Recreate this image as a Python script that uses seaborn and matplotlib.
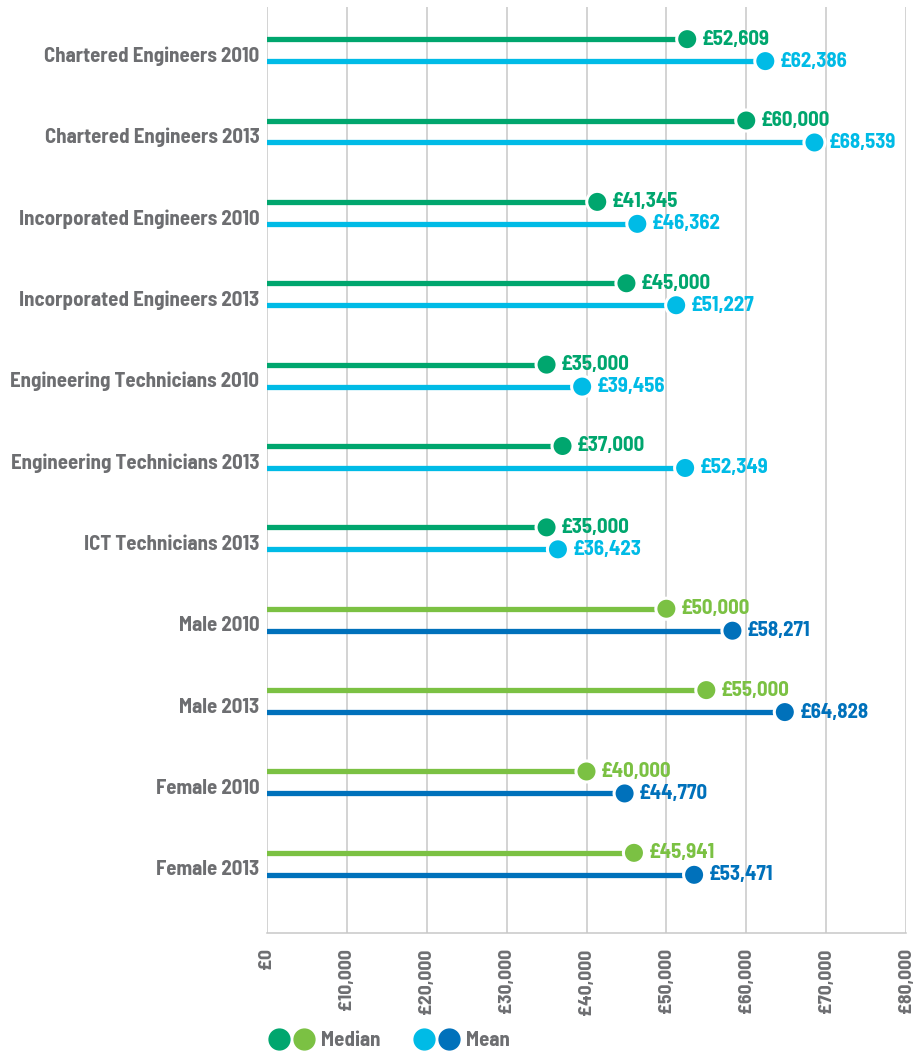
import numpy as np
import pandas as pd
import matplotlib
matplotlib.use("Agg")
import matplotlib.pyplot as plt
import matplotlib.transforms as mtransforms
from matplotlib.lines import Line2D
from matplotlib.legend_handler import HandlerTuple
import seaborn as sns

# ---- data ----
categories = [
    "Chartered Engineers 2010", "Chartered Engineers 2013",
    "Incorporated Engineers 2010", "Incorporated Engineers 2013",
    "Engineering Technicians 2010", "Engineering Technicians 2013",
    "ICT Technicians 2013", "Male 2010", "Male 2013",
    "Female 2010", "Female 2013",
]
median_vals = [52609, 60000, 41345, 45000, 35000, 37000, 35000, 50000, 55000, 40000, 45941]
mean_vals = [62386, 68539, 46362, 51227, 39456, 52349, 36423, 58271, 64828, 44770, 53471]
group = ["reg"] * 7 + ["gender"] * 4
x_ticks = [0, 10000, 20000, 30000, 40000, 50000, 60000, 70000, 80000]

DK_GREEN = "#00A66E"
LT_GREEN = "#7BC143"
LT_BLUE = "#00BBE6"
DK_BLUE = "#0071BB"
GRAY = "#6D6E71"
GRID = "#C8C8C8"
palette = {"reg-Median": DK_GREEN, "reg-Mean": LT_BLUE,
           "gender-Median": LT_GREEN, "gender-Mean": DK_BLUE}

rows = []
for i, cat in enumerate(categories):
    rows.append({"cat": cat, "pos": i - 0.135, "stat": "Median", "value": median_vals[i],
                 "key": f"{group[i]}-Median"})
    rows.append({"cat": cat, "pos": i + 0.135, "stat": "Mean", "value": mean_vals[i],
                 "key": f"{group[i]}-Mean"})
df = pd.DataFrame(rows)

sns.set_theme(style="white")
FONT = ["Barlow Semi Condensed", "DejaVu Sans"]
plt.rcParams["font.family"] = FONT
plt.rcParams["font.weight"] = "bold"
FS = 15

fig = plt.figure(figsize=(9.16, 10.52), dpi=100)
ax = fig.add_axes([267 / 916, 1 - 933 / 1052, (906 - 267) / 916, (933 - 7) / 1052])

# grid
for t in x_ticks:
    ax.axvline(t, color=GRID, lw=1.1, zorder=0)

# stems
for _, r in df.iterrows():
    ax.hlines(r["pos"], 0, r["value"], color=palette[r["key"]], lw=3.8,
              capstyle="round", zorder=2)

sns.scatterplot(data=df, x="value", y="pos", hue="key", palette=palette, s=230,
                edgecolor="white", linewidth=2.2, legend=False, zorder=3, ax=ax)

for _, r in df.iterrows():
    ax.annotate(f"£{r['value']:,}", (r["value"], r["pos"]), xytext=(10.5, 0),
                textcoords="offset points", va="center", ha="left",
                color=palette[r["key"]], fontsize=FS, fontweight="bold")

ax.set_xlim(0, 80000)
ax.set_ylim(10.85, -0.53)
ax.set_yticks(range(len(categories)))
ax.set_yticklabels(categories, fontsize=FS, color=GRAY, fontweight="bold")
ax.set_xticks(x_ticks)
ax.set_xticklabels([f"£{t:,}" for t in x_ticks], rotation=90, fontsize=14,
                   color=GRAY, fontweight="bold", va="top")
ax.tick_params(axis="y", length=0, pad=5.5)
ax.tick_params(axis="x", length=6, color=GRID, width=1.1, pad=5, direction="out")
# category labels sit a little below the pair's centre
shift = mtransforms.ScaledTranslation(0, -4 / 100, fig.dpi_scale_trans)
for lab in ax.get_yticklabels():
    lab.set_transform(lab.get_transform() + shift)
ax.set_xlabel("")
ax.set_ylabel("")
for s in ["top", "right", "left"]:
    ax.spines[s].set_visible(False)
ax.spines["bottom"].set_color(GRID)
ax.spines["bottom"].set_linewidth(1.1)

# legend
def dot(c):
    return Line2D([], [], marker="o", ls="", markersize=15, markerfacecolor=c,
                  markeredgecolor=c)

handles = [(dot(DK_GREEN), dot(LT_GREEN)), (dot(LT_BLUE), dot(DK_BLUE))]
leg = fig.legend(handles, ["Median", "Mean"], ncol=2, frameon=False,
                 loc="center left", bbox_to_anchor=(250 / 916, 1 - 1041 / 1052),
                 handler_map={tuple: HandlerTuple(ndivide=None, pad=0.25)},
                 handlelength=2.2, handletextpad=0.3, columnspacing=1.6,
                 prop={"family": FONT, "weight": "bold", "size": FS})
for t in leg.get_texts():
    t.set_color(GRAY)

fig.savefig("out.png", dpi=100)
